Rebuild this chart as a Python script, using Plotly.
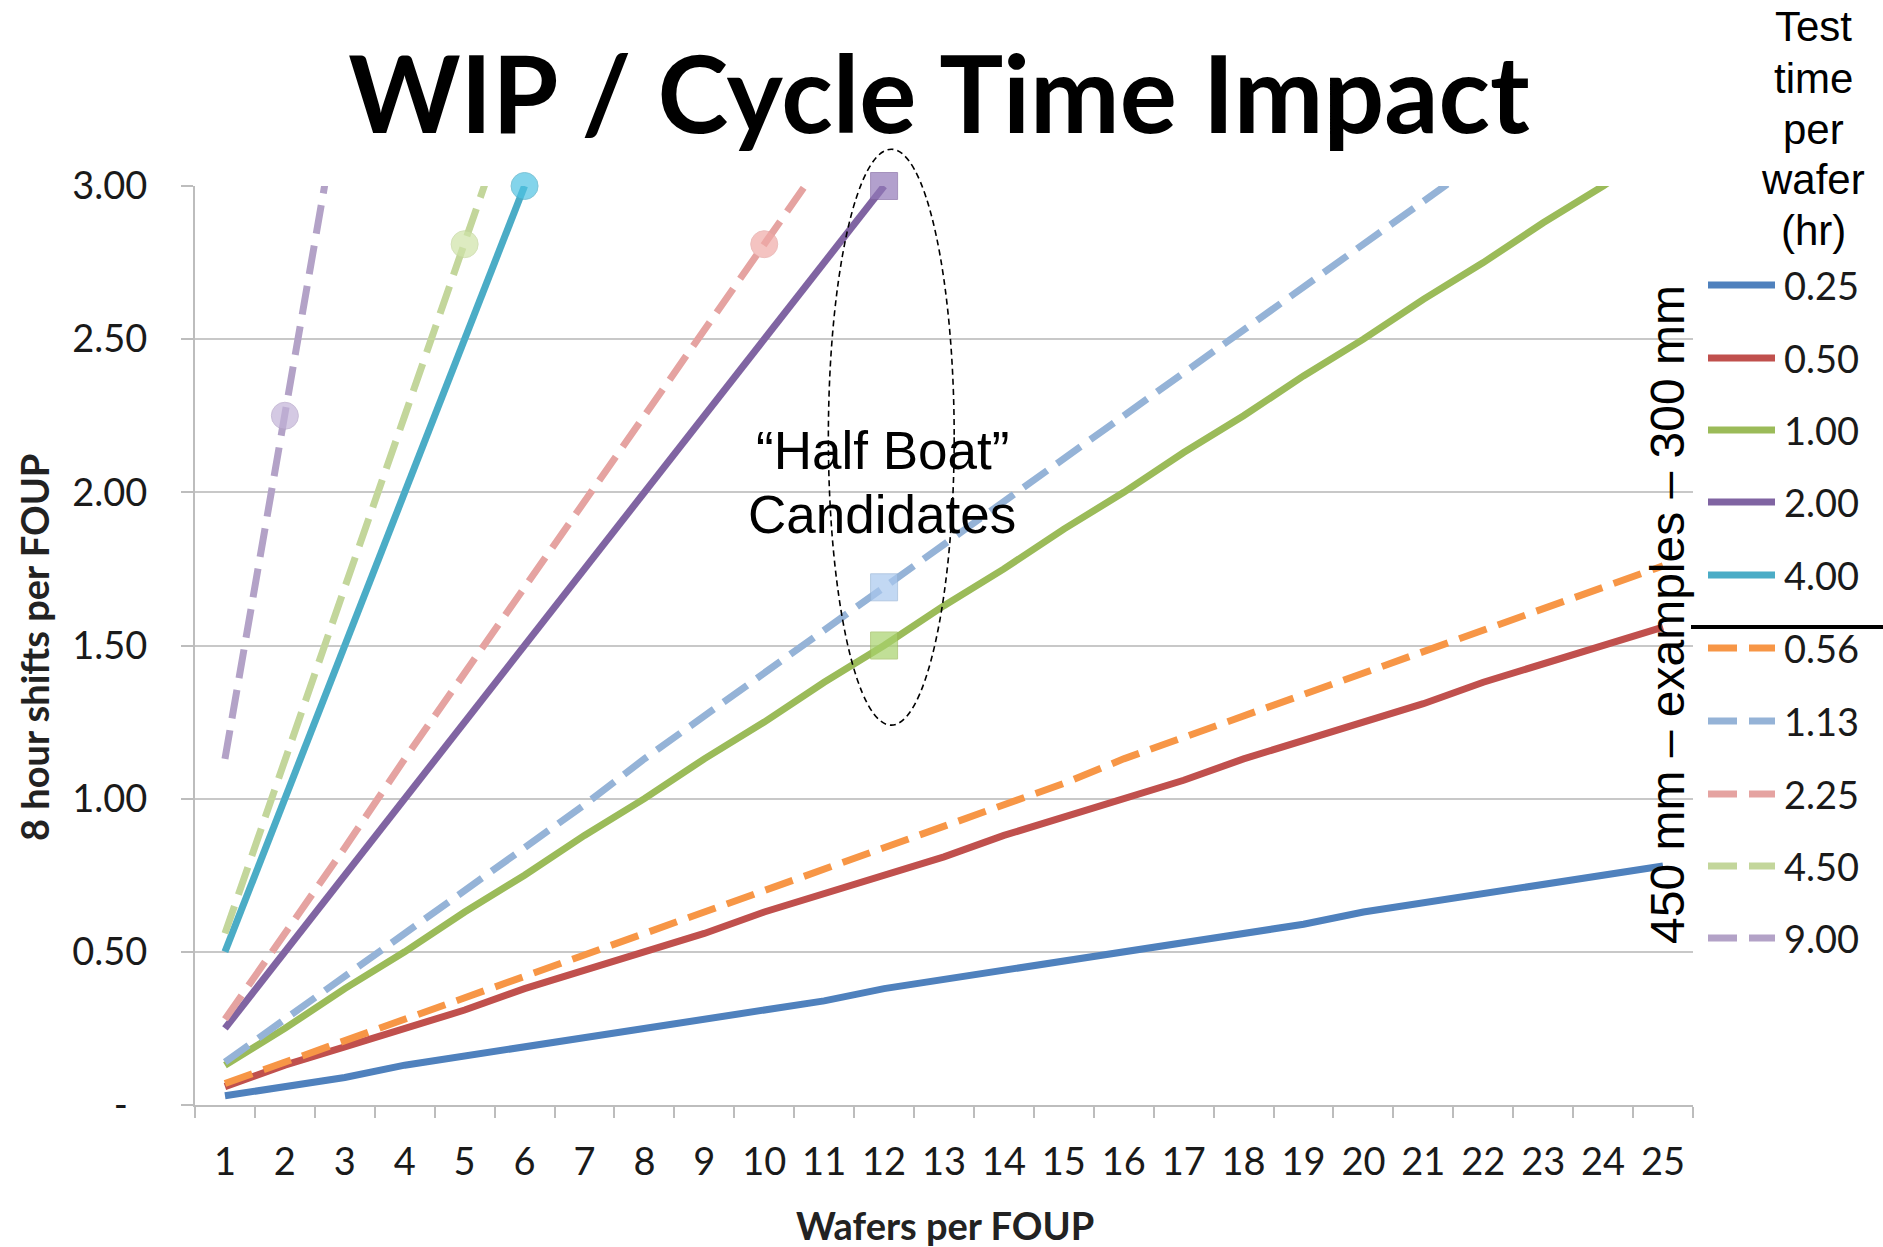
import plotly.graph_objects as go

# ---------------- data ----------------
wafers = list(range(1, 26))
x_tick_labels = [str(w) for w in wafers]
y_tick_values = [0, 0.5, 1.0, 1.5, 2.0, 2.5, 3.0]
y_tick_labels = ["-\u00a0\u00a0", "0.50", "1.00", "1.50", "2.00", "2.50", "3.00"]

series_labels = ["0.25", "0.50", "1.00", "2.00", "4.00",
                 "0.56", "1.13", "2.25", "4.50", "9.00"]

shifts_025 = [0.03, 0.06, 0.09, 0.13, 0.16, 0.19, 0.22, 0.25, 0.28, 0.31, 0.34, 0.38, 0.41,
              0.44, 0.47, 0.50, 0.53, 0.56, 0.59, 0.63, 0.66, 0.69, 0.72, 0.75, 0.78]
shifts_050 = [0.06, 0.13, 0.19, 0.25, 0.31, 0.38, 0.44, 0.50, 0.56, 0.63, 0.69, 0.75, 0.81,
              0.88, 0.94, 1.00, 1.06, 1.13, 1.19, 1.25, 1.31, 1.38, 1.44, 1.50, 1.56]
shifts_100 = [0.13, 0.25, 0.38, 0.50, 0.63, 0.75, 0.88, 1.00, 1.13, 1.25, 1.38, 1.50, 1.63,
              1.75, 1.88, 2.00, 2.13, 2.25, 2.38, 2.50, 2.63, 2.75, 2.88, 3.00, 3.13]
shifts_200 = [0.25, 0.50, 0.75, 1.00, 1.25, 1.50, 1.75, 2.00, 2.25, 2.50, 2.75, 3.00]
shifts_400 = [0.50, 1.00, 1.50, 2.00, 2.50, 3.00]
shifts_056 = [0.07, 0.14, 0.21, 0.28, 0.35, 0.42, 0.49, 0.56, 0.63, 0.70, 0.77, 0.84, 0.91,
              0.98, 1.05, 1.13, 1.20, 1.27, 1.34, 1.41, 1.48, 1.55, 1.62, 1.69, 1.76]
shifts_113 = [0.14, 0.28, 0.42, 0.56, 0.70, 0.84, 0.98, 1.13, 1.27, 1.41, 1.55, 1.69, 1.83,
              1.97, 2.11, 2.25, 2.39, 2.53, 2.67, 2.81, 2.95, 3.09]
shifts_225 = [0.28, 0.56, 0.84, 1.13, 1.41, 1.69, 1.97, 2.25, 2.53, 2.81, 3.09]
shifts_450 = [0.56, 1.13, 1.69, 2.25, 2.81, 3.38]
shifts_900 = [1.13, 2.25, 3.38]

series_values = [shifts_025, shifts_050, shifts_100, shifts_200, shifts_400,
                 shifts_056, shifts_113, shifts_225, shifts_450, shifts_900]

# highlighted points: series label -> wafer count
circle_points = {"9.00": 2, "4.50": 5, "4.00": 6, "2.25": 10}
square_points = {"2.00": 12, "1.13": 12, "1.00": 12}

# "half boat" ellipse extent in data units
ellipse_x = [11.07, 13.17]
ellipse_y = [1.24, 3.12]

annotation_lines = ["“Half Boat”", "Candidates"]
legend_title_lines = ["Test", "time", "per", "wafer", "(hr)"]
side_text = "450 mm – examples – 300 mm"
x_title = "Wafers per FOUP"
y_title = "8 hour shifts per FOUP"
chart_title = "WIP / Cycle Time Impact"

# ---------------- styles ----------------
line_colors = ["#4F81BD", "#C0504D", "#9BBB59", "#8064A2", "#4BACC6",
               "#F79646", "#95B3D7", "#E5A3A1", "#C3D69B", "#B3A2C7"]
marker_colors = {"9.00": "#C2B3D8", "4.50": "#CFE3A8", "4.00": "#4FC3E3", "2.25": "#F0AAA7",
                 "2.00": "#9278B8", "1.13": "#A9C8EE", "1.00": "#A8D26C"}
line_dashes = ["solid"] * 5 + ["29px,12px"] * 5
LINE_W = 7

X_RANGE = [0.5, 25.5]
Y_RANGE = [0, 3]

W, H = 1883, 1247
L, R, T, B = 195, 1693, 186, 1105   # plot area in pixels


def px_x(px):
    return (px - L) / (R - L)


def px_y(py):
    return (B - py) / (B - T)


def data_to_paper_x(v):
    return (v - X_RANGE[0]) / (X_RANGE[1] - X_RANGE[0])


def data_to_paper_y(v):
    return (v - Y_RANGE[0]) / (Y_RANGE[1] - Y_RANGE[0])


fig = go.Figure()

for lab, vals, col, dash in zip(series_labels, series_values, line_colors, line_dashes):
    xs = wafers[:len(vals)]
    sizes, symbols, mlw = [], [], []
    for w in xs:
        if circle_points.get(lab) == w:
            sizes.append(27); symbols.append("circle"); mlw.append(1)
        elif square_points.get(lab) == w:
            sizes.append(27); symbols.append("square"); mlw.append(1)
        else:
            sizes.append(0); symbols.append("circle"); mlw.append(0)
    fig.add_trace(go.Scatter(
        x=xs, y=vals, mode="lines+markers", name=lab, showlegend=False,
        line=dict(color=col, width=LINE_W, dash=dash),
        marker=dict(size=sizes, symbol=symbols,
                    color=marker_colors.get(lab, col),
                    line=dict(width=mlw, color=col)),
        cliponaxis=False, hoverinfo="skip",
    ))

shapes = []
annotations = []

# dashed ellipse around the "half boat" candidates (paper refs so it is not clipped)
shapes.append(dict(type="circle", xref="paper", yref="paper",
                   x0=data_to_paper_x(ellipse_x[0]), x1=data_to_paper_x(ellipse_x[1]),
                   y0=data_to_paper_y(ellipse_y[0]), y1=data_to_paper_y(ellipse_y[1]),
                   line=dict(color="black", width=1.6, dash="6px,4px"), layer="above"))
for txt, yv in zip(annotation_lines, [2.138, 1.929]):
    annotations.append(dict(x=11.97, y=yv, xref="x", yref="y", text=txt, showarrow=False,
                            xanchor="center", yanchor="middle",
                            font=dict(family="Liberation Sans, Arial", size=53, color="black")))

# custom legend
legend_rows_px = [285, 358, 430, 502, 575, 648, 721, 794, 866, 938]
for lab, col, dash, ypx in zip(series_labels, line_colors, line_dashes, legend_rows_px):
    shapes.append(dict(type="line", xref="paper", yref="paper",
                       x0=px_x(1708), x1=px_x(1775), y0=px_y(ypx), y1=px_y(ypx),
                       line=dict(color=col, width=7, dash=dash)))
    annotations.append(dict(x=px_x(1782), y=px_y(ypx), xref="paper", yref="paper",
                            xanchor="left", yanchor="middle", text=lab, showarrow=False,
                            font=dict(family="Lato", size=38, color="#1a1a1a")))

title_rows_px = [26, 78, 129, 180, 231]
for txt, ypx in zip(legend_title_lines, title_rows_px):
    annotations.append(dict(x=px_x(1813), y=px_y(ypx), xref="paper", yref="paper",
                            xanchor="center", yanchor="middle", text=txt, showarrow=False,
                            font=dict(family="Liberation Sans, Arial", size=42, color="black")))

# separator line between 300 mm and 450 mm series
shapes.append(dict(type="line", xref="paper", yref="paper",
                   x0=px_x(1691), x1=px_x(1883), y0=px_y(627), y1=px_y(627),
                   line=dict(color="black", width=4)))

# rotated side text
annotations.append(dict(x=px_x(1667), y=px_y(615), xref="paper", yref="paper",
                        xanchor="center", yanchor="middle", textangle=-90,
                        text=side_text, showarrow=False,
                        font=dict(family="Liberation Sans, Arial", size=48, color="black")))

# axis titles
annotations.append(dict(x=px_x(945), y=px_y(1225), xref="paper", yref="paper",
                        xanchor="center", yanchor="middle",
                        text="<b>" + x_title + "</b>", showarrow=False,
                        font=dict(family="Lato", size=38, color="#222222")))
annotations.append(dict(x=px_x(34), y=px_y(648), xref="paper", yref="paper", textangle=-90,
                        xanchor="center", yanchor="middle",
                        text="<b>" + y_title + "</b>", showarrow=False,
                        font=dict(family="Lato", size=38, color="#222222")))

fig.update_layout(
    width=W, height=H, autosize=False,
    margin=dict(l=L, r=W - R, t=T, b=H - B, pad=0),
    paper_bgcolor="white", plot_bgcolor="white",
    title=dict(text="<b>" + chart_title + "</b>", x=939 / W, xanchor="center",
               y=1 - 96 / H, yanchor="middle",
               font=dict(family="Lato", size=107, color="black")),
    shapes=shapes, annotations=annotations, showlegend=False,
    xaxis=dict(range=X_RANGE, tickmode="array", tickvals=wafers, ticktext=x_tick_labels,
               ticks="", showgrid=False, zeroline=False, showline=True,
               linecolor="#BDBDBD", linewidth=2, ticklabelstandoff=22,
               tickfont=dict(family="Lato", size=38, color="#1a1a1a"),
               minor=dict(ticks="outside", tickmode="linear", tick0=0.5, dtick=1,
                          ticklen=11, tickwidth=2, tickcolor="#BDBDBD", showgrid=False)),
    yaxis=dict(range=Y_RANGE, tickmode="array", tickvals=y_tick_values, ticktext=y_tick_labels,
               ticks="outside", ticklen=12, tickwidth=2, tickcolor="#BDBDBD",
               showgrid=True, gridcolor="#C8C8C8", gridwidth=2, zeroline=False,
               showline=True, linecolor="#BDBDBD", linewidth=2, ticklabelstandoff=26,
               tickfont=dict(family="Lato", size=38, color="#1a1a1a")),
)

fig.write_html("out.html")
